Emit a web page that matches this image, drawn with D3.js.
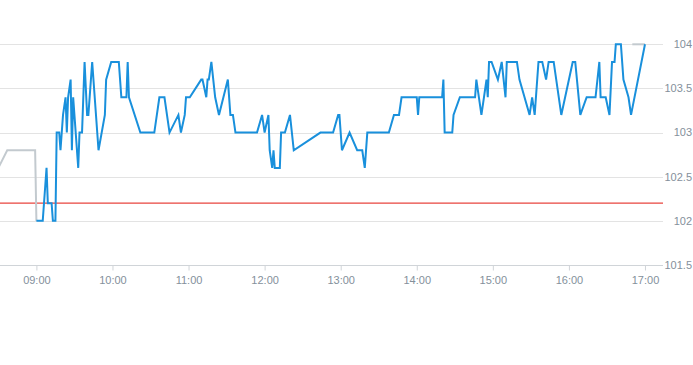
<!DOCTYPE html>
<html>
<head>
<meta charset="utf-8">
<script src="https://cdn.jsdelivr.net/npm/d3@7"></script>
<style>
  html, body { margin: 0; padding: 0; background: #fff; }
  svg { display: block; font-family: "Liberation Sans", Arial, sans-serif; }
</style>
</head>
<body>
<svg id="chart" width="693" height="365"></svg>
<script>
// ---- data ----
const preTimes = ["08:30", "08:37", "08:59", "09:00"];
const preValues = [102.6, 102.8, 102.8, 102.0];

const postTimes = ["16:50", "17:00"];
const postValues = [104.0, 104.0];

const times = [
  "09:00","09:05","09:07","09:08","09:09","09:12","09:13","09:15","09:16","09:18",
  "09:19","09:21","09:23","09:24","09:25","09:27","09:28","09:29","09:33","09:34",
  "09:36","09:38","09:40","09:41","09:44","09:49","09:54","09:55","09:59","10:05",
  "10:07","10:11","10:12","10:13","10:22","10:33","10:37","10:41","10:45","10:52",
  "10:54","10:57","10:58","11:01","11:10","11:11","11:14","11:15","11:16","11:18",
  "11:21","11:24","11:31","11:33","11:35","11:37","11:54","11:58","12:00","12:03",
  "12:04","12:06","12:07","12:08","12:12","12:13","12:16","12:20","12:23","12:44",
  "12:54","12:58","12:59","13:01","13:07","13:13","13:17","13:19","13:21","13:38",
  "13:42","13:46","13:48","14:00","14:01","14:02","14:20","14:21","14:22","14:28",
  "14:29","14:34","14:46","14:47","14:51","14:53","14:55","14:56","14:57","14:59",
  "15:04","15:07","15:10","15:11","15:19","15:21","15:29","15:31","15:33","15:36",
  "15:39","15:42","15:44","15:48","15:54","16:03","16:05","16:09","16:14","16:21",
  "16:24","16:25","16:29","16:32","16:34","16:36","16:37","16:41","16:43","16:47",
  "16:49","17:00"
];
const values = [
  102.0,102.0,102.4,102.6,102.2,102.2,102.0,102.0,103.0,103.0,
  102.8,103.2,103.4,103.0,103.4,103.6,102.8,103.4,102.6,103.0,
  103.0,103.8,103.2,103.2,103.8,102.8,103.2,103.6,103.8,103.8,
  103.4,103.4,103.8,103.4,103.0,103.0,103.4,103.4,103.0,103.2,
  103.0,103.2,103.4,103.4,103.6,103.6,103.4,103.6,103.6,103.8,
  103.4,103.2,103.6,103.2,103.2,103.0,103.0,103.2,103.0,103.2,
  102.8,102.6,102.8,102.6,102.6,103.0,103.0,103.2,102.8,103.0,
  103.0,103.2,103.2,102.8,103.0,102.8,102.8,102.6,103.0,103.0,
  103.2,103.2,103.4,103.4,103.2,103.4,103.4,103.6,103.0,103.0,
  103.2,103.4,103.4,103.6,103.2,103.4,103.6,103.4,103.8,103.8,
  103.6,103.8,103.4,103.8,103.8,103.6,103.2,103.4,103.2,103.8,
  103.8,103.6,103.8,103.8,103.2,103.8,103.8,103.2,103.4,103.4,
  103.8,103.4,103.4,103.2,103.8,103.8,104.0,104.0,103.6,103.4,
  103.2,104.0
];
const referenceValue = 102.2;
const yTicks = [101.5, 102, 102.5, 103, 103.5, 104];
const yDomain = [101.5, 104];
const xDomain = ["08:30", "17:15"];

// ---- drawing ----
const parse = d3.timeParse("%H:%M");
const svg = d3.select("#chart");
const plotRight = 663;
const textColor = "#84909b";

const x = d3.scaleTime()
  .domain(xDomain.map(parse))
  .range([-1.64, 664.0]);
const y = d3.scaleLinear()
  .domain(yDomain)
  .range([265, 44.3]);

// gridlines
svg.append("g").selectAll("line")
  .data(yTicks.slice(1))
  .join("line")
  .attr("x1", 0).attr("x2", plotRight)
  .attr("y1", d => Math.round(y(d)) + 0.5).attr("y2", d => Math.round(y(d)) + 0.5)
  .attr("stroke", "#e3e3e3").attr("stroke-width", 1);

// y labels
svg.append("g").selectAll("text")
  .data(yTicks)
  .join("text")
  .attr("x", 692)
  .attr("y", d => y(d))
  .attr("dy", "0.35em")
  .attr("text-anchor", "end")
  .attr("fill", textColor)
  .attr("font-size", 11)
  .text(d => d3.format("")(d));

// x axis
const xAxis = d3.axisBottom(x)
  .ticks(d3.timeHour.every(1))
  .tickFormat(d3.timeFormat("%H:%M"))
  .tickSize(5)
  .tickPadding(6);
const gx = svg.append("g")
  .attr("transform", `translate(0,${Math.round(y(101.5)) + 0.5})`)
  .call(xAxis);
gx.select(".domain").attr("d", `M0,0H${plotRight}`).attr("stroke", "#d0d4d8");
gx.selectAll(".tick line").attr("stroke", "#d0d4d8");
gx.selectAll(".tick text")
  .attr("fill", textColor)
  .attr("font-size", 11)
  .attr("font-family", "Liberation Sans, Arial, sans-serif");
gx.selectAll(".tick").filter(d => d < parse("09:00") || d > parse("17:00")).remove();

// reference line
svg.append("line")
  .attr("x1", 0).attr("x2", plotRight)
  .attr("y1", y(referenceValue))
  .attr("y2", y(referenceValue))
  .style("stroke", "#e8453e").attr("stroke-width", 1.3);

const line = d3.line()
  .x(d => x(d[0]))
  .y(d => y(d[1]));

const zipData = (t, v) => t.map((s, i) => [parse(s), v[i]]);

// grey pre/post market
svg.append("path")
  .datum(zipData(preTimes, preValues))
  .attr("d", line)
  .attr("fill", "none")
  .attr("stroke", "#c3cacf")
  .attr("stroke-width", 2);
svg.append("path")
  .datum(zipData(postTimes, postValues))
  .attr("d", line)
  .attr("fill", "none")
  .attr("stroke", "#c3cacf")
  .attr("stroke-width", 2);

// main line
svg.append("path")
  .datum(zipData(times, values))
  .attr("d", line)
  .attr("fill", "none")
  .attr("stroke", "#1990dc")
  .attr("stroke-width", 2)
  .attr("stroke-linejoin", "miter");
</script>
</body>
</html>
